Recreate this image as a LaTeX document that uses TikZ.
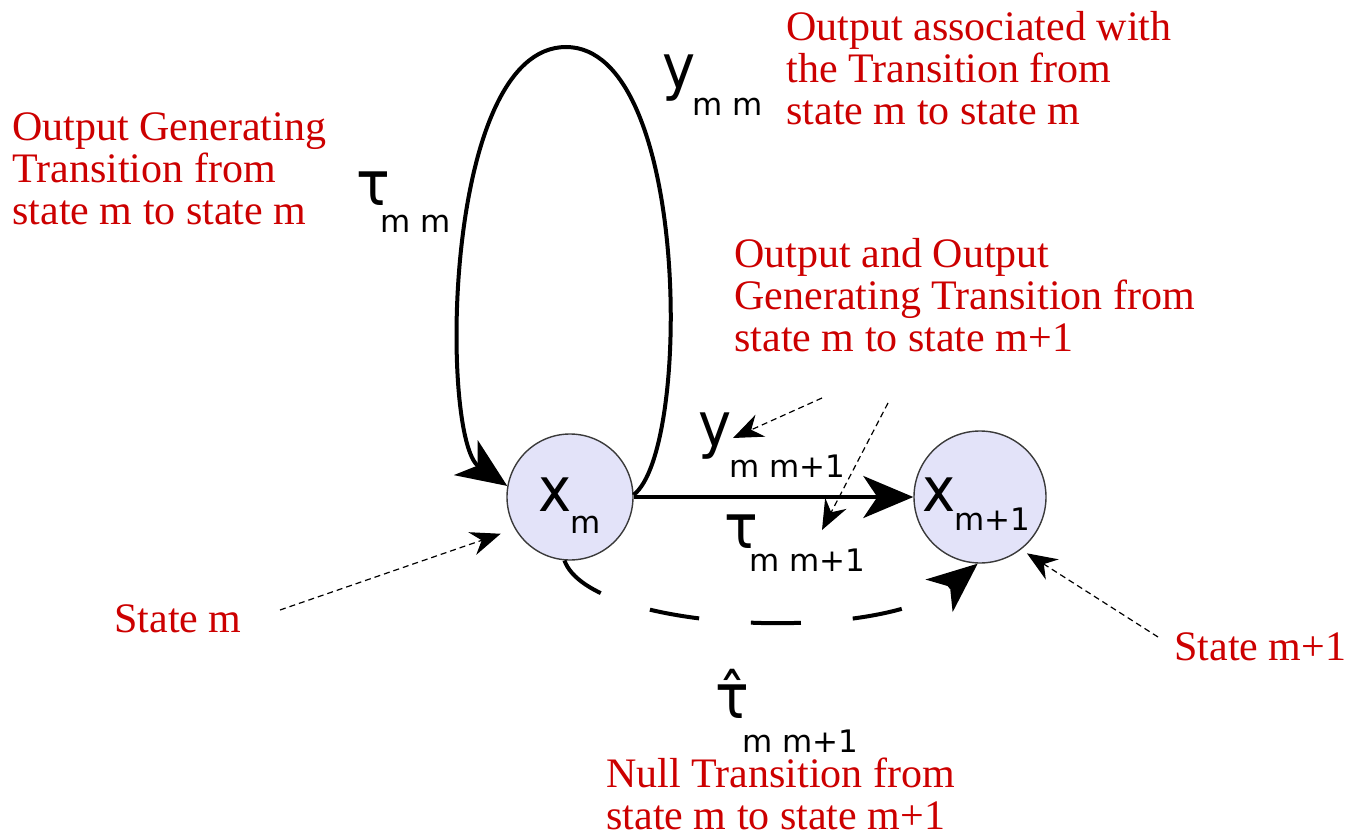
\documentclass[tikz,border=0pt]{standalone}
\usepackage{fontspec}
\usepackage{graphicx}
\setmainfont{Liberation Serif}
\newfontfamily\symfont{DejaVu Sans}
\usetikzlibrary{arrows.meta, positioning}
\definecolor{cred}{HTML}{CC0000}
\definecolor{cstate}{HTML}{E3E3F9}
\definecolor{cedge}{HTML}{3A3A3A}
\newcommand\tallsym[1]{\scalebox{1}[1.1]{#1}}
\tikzset{
  state/.style={circle, draw=cedge, fill=cstate, line width=0.7pt, minimum size=63pt, inner sep=0pt},
  trans/.style={-{Stealth[length=25pt, width=21pt, inset=7pt]}, line width=2pt},
  nulltrans/.style={trans, dash pattern=on 25pt off 26pt},
  pointer/.style={-{Stealth[length=15pt, width=12pt, inset=5pt]}, line width=0.6pt, dash pattern=on 3pt off 2pt},
  note/.style={text=cred, font=\fontsize{21}{21}\selectfont, align=left, anchor=base west, inner sep=0pt},
  sym/.style={font=\symfont\fontsize{28}{28}\selectfont, anchor=base west, inner sep=0pt},
  idx/.style={font=\symfont\fontsize{15.5}{15.5}\selectfont, anchor=base west, inner sep=0pt},
}

\begin{document}
\begin{tikzpicture}[x=0.5pt, y=-0.5pt]
  \useasboundingbox (0,0) rectangle (1345,835);

  % the two states
  \node[state] (xm) at (570,497) {};
  \node[state, minimum size=66pt] (xn) at (980,497) {};

  % symbols and their indices
  \foreach \n/\s/\sx/\sy/\i/\ix/\iy in {
      ymm/y/662/88/m m/692/115,
      tmm/τ/356/205/m m/380/232,
      ymn/y/698/446/m m+1/729/477,
      tmn/τ/724/548/m m+1/749/571,
      hmn/τ̂/715/718/m m+1/742/752,
      xms/x/538/511/m/570/533,
      xns/x/922/511/m+1/954/530} {
    \node[sym] (\n) at (\sx,\sy) {\tallsym{\s}};
    \node[idx] (\n i) at (\ix,\iy) {\i};
  }

  % transitions
  \draw[trans] (xm.2) .. controls (692,450) and (690,47) .. (566,47)
    .. controls (442,47) and (440,440) .. (xm.170);
  \draw[trans] (xm) -- (xn);
  \draw[nulltrans] (xm.265) .. controls (590,632) and (880,645) .. (xn.268);

  % red notes (placed at the baseline of their last line)
  \node[note] (assoc) at (786,124) {Output associated with\\the Transition from\\state m to state m};
  \node[note] (gen) at (12,224) {Output Generating\\Transition from\\state m to state m};
  \node[note] (both) at (734,351) {Output and Output\\Generating Transition from\\state m to state m+1};
  \node[note] (sm) at (114,632) {State m};
  \node[note] (sn) at (1174,660) {State m+1};
  \node[note] (null) at (606,829) {Null Transition from\\state m to state m+1};

  % dotted pointers
  \coordinate (py) at (822,398);
  \coordinate (pyend) at (733,438);
  \coordinate (pt) at (888,403);
  \coordinate (ptend) at (822,530);
  \coordinate (pm) at (280,610);
  \coordinate (pn) at (1158,637);
  \draw[pointer] (py) -- (pyend);
  \draw[pointer] (pt) -- (ptend);
  \draw[pointer, shorten >=7.5pt] (pm) -- (xm.210);
  \draw[pointer, shorten >=3.5pt] (pn) -- (xn.308);
\end{tikzpicture}
\end{document}
